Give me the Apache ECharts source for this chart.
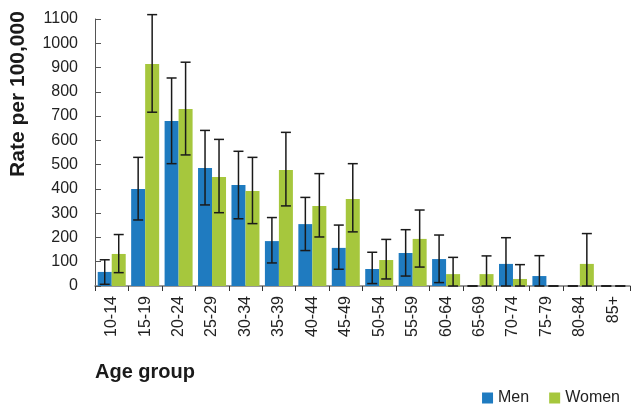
<!DOCTYPE html>
<html>
<head>
<meta charset="utf-8">
<script src="https://cdn.jsdelivr.net/npm/echarts@6/dist/echarts.min.js"></script>
<style>
  html, body { margin: 0; padding: 0; background: #fff; }
  #chart { width: 631px; height: 406px; }
</style>
</head>
<body>
<div id="chart"></div>
<script>
// Age groups on the category axis
const ageGroups = ['10-14', '15-19', '20-24', '25-29', '30-34', '35-39', '40-44', '45-49',
                   '50-54', '55-59', '60-64', '65-69', '70-74', '75-79', '80-84', '85+'];

// Rates per 100,000
const menRate   = [58, 400, 680, 486, 416, 185, 255, 157, 70, 136, 111, 0, 91, 41, 0, 0];
const womenRate = [132, 915, 729, 449, 391, 478, 330, 358, 107, 194, 49, 49, 29, 0, 91, 0];

// 95% confidence limits
const menLow    = [7, 272, 504, 334, 277, 95, 146, 69, 10, 41, 14, 0, 0, 0, 0, 0];
const menHigh   = [108, 530, 857, 641, 555, 282, 365, 251, 139, 232, 210, 0, 199, 125, 0, 0];
const womenLow  = [55, 716, 540, 302, 257, 330, 202, 223, 29, 78, 0, 0, 0, 0, 0, 0];
const womenHigh = [212, 1118, 922, 604, 530, 633, 463, 504, 192, 313, 118, 124, 88, 0, 216, 0];

const yTicks = { min: 0, max: 1100, interval: 100 };

const BAR_W = 14;
const FONT = 'Liberation Sans, Arial, sans-serif';

function errorData(low, high) {
  return ageGroups.map((g, i) => [i, low[i], high[i]]);
}

function errorRenderer(offset) {
  return function (params, api) {
    const x = api.value(0);
    const lo = api.coord([x, api.value(1)]);
    const hi = api.coord([x, api.value(2)]);
    const cx = lo[0] + offset;
    const half = 5;
    const style = { stroke: '#1a1a1a', lineWidth: 1.5 };
    return {
      type: 'group',
      children: [
        { type: 'line', shape: { x1: cx, y1: hi[1], x2: cx, y2: lo[1] }, style: style },
        { type: 'line', shape: { x1: cx - half, y1: hi[1], x2: cx + half, y2: hi[1] }, style: style },
        { type: 'line', shape: { x1: cx - half, y1: lo[1], x2: cx + half, y2: lo[1] }, style: style }
      ]
    };
  };
}

const chart = echarts.init(document.getElementById('chart'), null, { renderer: 'canvas' });

chart.setOption({
  animation: false,
  textStyle: { fontFamily: FONT },
  grid: { left: 95, right: 1, top: 19, bottom: 120, containLabel: false },
  legend: {
    right: 11,
    top: 390,
    padding: 0,
    itemWidth: 11,
    itemHeight: 11,
    itemGap: 20,
    icon: 'rect',
    textStyle: { fontSize: 16, color: '#222' },
    data: ['Men', 'Women']
  },
  graphic: [
    {
      type: 'text',
      left: 95,
      top: 362,
      style: { text: 'Age group', fontSize: 20, fontWeight: 'bold', fill: '#1a1a1a', fontFamily: FONT }
    },
    {
      type: 'text',
      x: 18,
      y: 94,
      rotation: Math.PI / 2,
      style: { text: 'Rate per 100,000', fontSize: 21, fontWeight: 'bold', fill: '#1a1a1a',
               align: 'center', verticalAlign: 'middle', fontFamily: FONT }
    }
  ],
  xAxis: {
    type: 'category',
    data: ageGroups,
    boundaryGap: true,
    axisLine: { lineStyle: { color: '#777', width: 1.5 } },
    axisTick: { show: true, interval: 0, length: 5, lineStyle: { color: '#333' } },
    axisLabel: { interval: 0, rotate: 90, fontSize: 16, color: '#222', margin: 10 }
  },
  yAxis: {
    type: 'value',
    min: yTicks.min,
    max: yTicks.max,
    interval: yTicks.interval,
    splitLine: { show: false },
    axisLine: { show: true, lineStyle: { color: '#555', width: 1 } },
    axisTick: { show: true, inside: true, length: 6, lineStyle: { color: '#555' } },
    axisLabel: { fontSize: 16, color: '#222', margin: 17, formatter: v => String(v) }
  },
  series: [
    {
      name: 'Men',
      type: 'bar',
      data: menRate,
      barWidth: BAR_W,
      barGap: '0%',
      itemStyle: { color: '#1f7bc0' }
    },
    {
      name: 'Women',
      type: 'bar',
      data: womenRate,
      barWidth: BAR_W,
      barGap: '0%',
      itemStyle: { color: '#a6c73d' }
    },
    {
      type: 'custom',
      renderItem: errorRenderer(-BAR_W / 2),
      data: errorData(menLow, menHigh),
      encode: { x: 0, y: [1, 2] },
      z: 5,
      silent: true
    },
    {
      type: 'custom',
      renderItem: errorRenderer(BAR_W / 2),
      data: errorData(womenLow, womenHigh),
      encode: { x: 0, y: [1, 2] },
      z: 5,
      silent: true
    }
  ]
});
</script>
</body>
</html>
